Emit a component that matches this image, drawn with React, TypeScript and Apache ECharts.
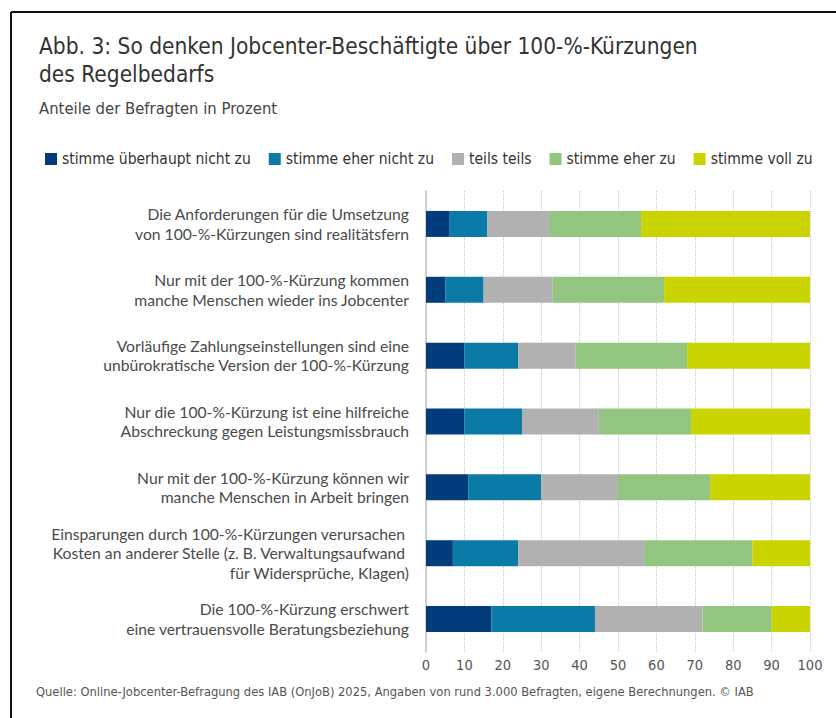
import React, { useEffect, useRef } from "react";
import * as echarts from "echarts";

const categories = [
  "Die Anforderungen für die Umsetzung\nvon 100-%-Kürzungen sind realitätsfern",
  "Nur mit der 100-%-Kürzung kommen\nmanche Menschen wieder ins Jobcenter",
  "Vorläufige Zahlungseinstellungen sind eine\nunbürokratische Version der 100-%-Kürzung",
  "Nur die 100-%-Kürzung ist eine hilfreiche\nAbschreckung gegen Leistungsmissbrauch",
  "Nur mit der 100-%-Kürzung können wir\nmanche Menschen in Arbeit bringen",
  "Einsparungen durch 100-%-Kürzungen verursachen \nKosten an anderer Stelle (z. B. Verwaltungsaufwand \nfür Widersprüche, Klagen)",
  "Die 100-%-Kürzung erschwert\neine vertrauensvolle Beratungsbeziehung",
];

const seriesNames = [
  "stimme überhaupt nicht zu",
  "stimme eher nicht zu",
  "teils teils",
  "stimme eher zu",
  "stimme voll zu",
];

const ueberhauptNicht = [6, 5, 10, 10, 11, 7, 17];
const eherNicht = [10, 10, 14, 15, 19, 17, 27];
const teilsTeils = [16, 18, 15, 20, 20, 33, 28];
const eherZu = [24, 29, 29, 24, 24, 28, 18];
const vollZu = [44, 38, 32, 31, 26, 15, 10];

const colors = ["#033c7b", "#0c7aa6", "#b1b1b1", "#93c580", "#c9d400"];

const titleText = "Abb. 3: So denken Jobcenter-Beschäftigte über 100-%-Kürzungen\ndes Regelbedarfs";
const subtitleText = "Anteile der Befragten in Prozent";
const footerText =
  "Quelle: Online-Jobcenter-Befragung des IAB (OnJoB) 2025, Angaben von rund 3.000 Befragten, eigene Berechnungen. © IAB";

const narrow = "'Liberation Sans Narrow', 'DejaVu Sans Condensed', sans-serif";
const body = "Lato, 'Open Sans', sans-serif";

export default function App() {
  const ref = useRef<HTMLDivElement>(null);
  useEffect(() => {
    if (!ref.current) return;
    const chart = echarts.init(ref.current, null, { renderer: "svg" });
    const values = [ueberhauptNicht, eherNicht, teilsTeils, eherZu, vollZu];
    chart.setOption({
      animation: false,
      backgroundColor: "#ffffff",
      color: colors,
      title: {
        text: titleText,
        subtext: subtitleText,
        left: 34,
        top: 27,
        itemGap: 12,
        textStyle: { fontFamily: narrow, fontSize: 22.5, fontWeight: "normal", color: "#333", lineHeight: 28 },
        subtextStyle: { fontFamily: narrow, fontSize: 16.5, color: "#444" },
      },
      legend: {
        data: seriesNames,
        left: 40,
        top: 146,
        icon: "rect",
        itemWidth: 12,
        itemHeight: 12,
        itemGap: 18,
        textStyle: { fontFamily: narrow, fontSize: 15.5, color: "#333" },
      },
      grid: { left: 426, right: 26, top: 191, bottom: 66, containLabel: false },
      xAxis: {
        type: "value",
        min: 0,
        max: 100,
        interval: 10,
        axisLine: { show: false },
        axisTick: { show: false },
        splitLine: { show: true, lineStyle: { type: "dotted", color: "#c8c8c8", width: 1 } },
        axisLabel: { fontFamily: narrow, fontSize: 14.5, color: "#555", margin: 5 },
      },
      yAxis: {
        type: "category",
        data: categories,
        inverse: true,
        axisLine: { show: true, lineStyle: { color: "#c4c4c4", width: 1.5 } },
        axisTick: { show: false },
        axisLabel: {
          fontFamily: body,
          fontSize: 15.7,
          lineHeight: 19.5,
          color: "#4a4a4a",
          margin: 17,
          align: "right",
        },
      },
      series: seriesNames.map((name, i) => ({
        name,
        type: "bar",
        stack: "total",
        barWidth: 26,
        data: values[i],
        itemStyle: { color: colors[i] },
      })),
      graphic: [
        { type: "line", shape: { x1: 11, y1: 12, x2: 836, y2: 12 }, style: { stroke: "#111", lineWidth: 2 } },
        { type: "line", shape: { x1: 11, y1: 12, x2: 11, y2: 718 }, style: { stroke: "#111", lineWidth: 2 } },
        {
          type: "text",
          left: 36,
          top: 685,
          style: { text: footerText, fontFamily: narrow, fontSize: 12.8, fill: "#555" },
        },
      ],
    });
    return () => chart.dispose();
  }, []);
  return (
    <div style={{ position: "absolute", left: 0, top: 0, width: 836, height: 718, background: "#fff" }}>
      <div ref={ref} style={{ width: 836, height: 718 }} />
    </div>
  );
}
